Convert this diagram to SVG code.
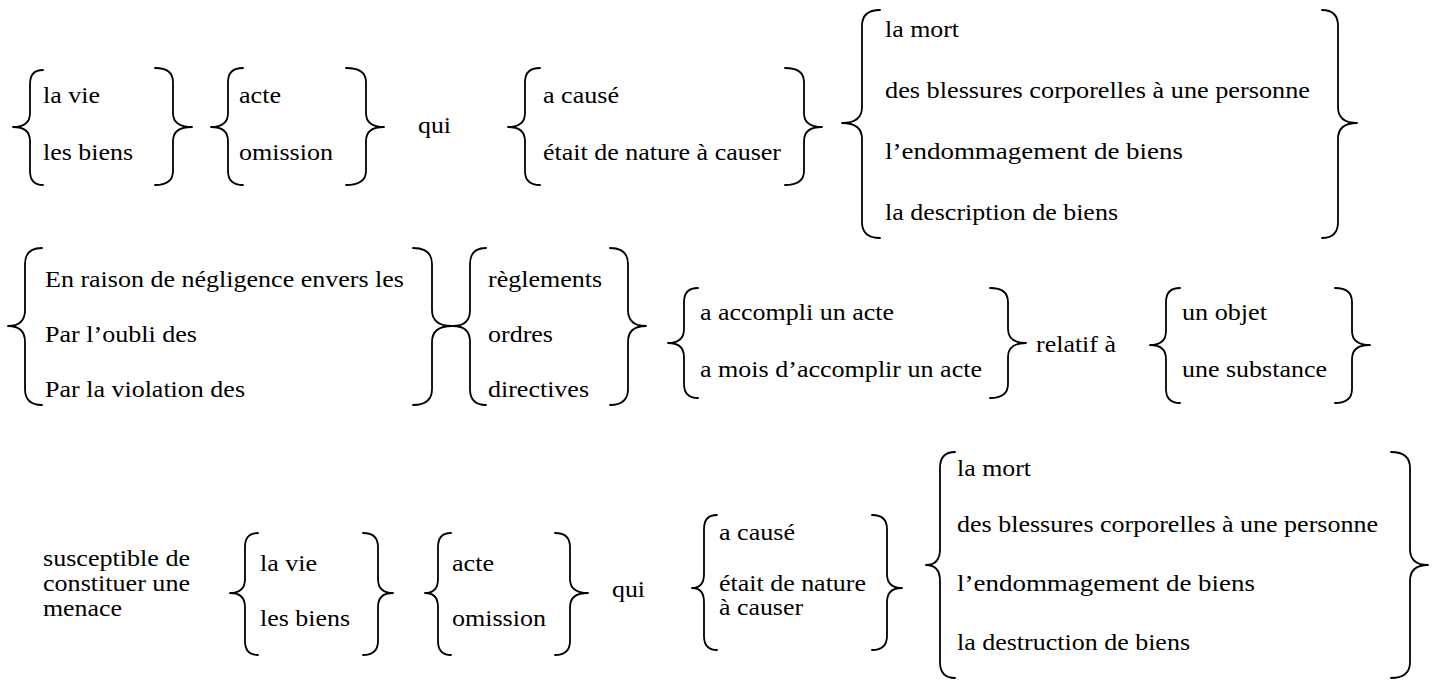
<svg xmlns="http://www.w3.org/2000/svg" width="1432" height="680" viewBox="0 0 1432 680">
<style>
.b{fill:none;stroke:#000;stroke-width:1.8;stroke-linejoin:round;stroke-linecap:round}
</style>
<rect width="1432" height="680" fill="#fff"/>
<g font-size="23" fill="#000" font-family="Liberation Serif, Times New Roman, serif">
<!-- Row 1 -->
<g id="r1-vie">
<path class="b" d="M43 70 Q30 70 30 84 V113 Q30 127 13 127 Q30 127 30 141 V171 Q30 185 43 185"/>
<text x="43" y="103" textLength="57" lengthAdjust="spacingAndGlyphs">la vie</text>
<text x="43" y="160" textLength="90" lengthAdjust="spacingAndGlyphs">les biens</text>
<path class="b" d="M155 68 Q173 68 173 82 V113 Q173 127 192 127 Q173 127 173 141 V171 Q173 185 155 185"/>
</g>
<g id="r1-acte">
<path class="b" d="M243 68 Q228 68 228 82 V113 Q228 127 211 127 Q228 127 228 141 V171 Q228 185 243 185"/>
<text x="239" y="103" textLength="42" lengthAdjust="spacingAndGlyphs">acte</text>
<text x="239" y="160" textLength="94" lengthAdjust="spacingAndGlyphs">omission</text>
<path class="b" d="M346 68 Q366 68 366 82 V113 Q366 127 384 127 Q366 127 366 141 V171 Q366 185 346 185"/>
</g>
<g id="r1-qui"><text x="418" y="133" textLength="33" lengthAdjust="spacingAndGlyphs">qui</text></g>
<g id="r1-cause">
<path class="b" d="M540 68 Q525 68 525 82 V113 Q525 127 508 127 Q525 127 525 141 V171 Q525 185 540 185"/>
<text x="543" y="103" textLength="76" lengthAdjust="spacingAndGlyphs">a causé</text>
<text x="543" y="160" textLength="238" lengthAdjust="spacingAndGlyphs">était de nature à causer</text>
<path class="b" d="M785 68 Q804 68 804 82 V113 Q804 127 822 127 Q804 127 804 141 V171 Q804 185 785 185"/>
</g>
<g id="r1-effets">
<path class="b" d="M880 10 Q862 10 862 26 V107 Q862 123 842 123 Q862 123 862 139 V222 Q862 238 880 238"/>
<text x="885" y="37" textLength="74" lengthAdjust="spacingAndGlyphs">la mort</text>
<text x="885" y="98" textLength="425" lengthAdjust="spacingAndGlyphs">des blessures corporelles à une personne</text>
<text x="885" y="159" textLength="298" lengthAdjust="spacingAndGlyphs">l’endommagement de biens</text>
<text x="885" y="220" textLength="233" lengthAdjust="spacingAndGlyphs">la description de biens</text>
<path class="b" d="M1322 10 Q1338 10 1338 26 V107 Q1338 123 1357 123 Q1338 123 1338 139 V222 Q1338 238 1322 238"/>
</g>
<!-- Row 2 -->
<g id="r2-cause">
<path class="b" d="M42 248 Q25 248 25 264 V310 Q25 326 8 326 Q25 326 25 342 V389 Q25 405 42 405"/>
<text x="45" y="287" textLength="359" lengthAdjust="spacingAndGlyphs">En raison de négligence envers les</text>
<text x="45" y="342" textLength="152" lengthAdjust="spacingAndGlyphs">Par l’oubli des</text>
<text x="45" y="397" textLength="200" lengthAdjust="spacingAndGlyphs">Par la violation des</text>
<path class="b" d="M413 248 Q432 248 432 264 V310 Q432 326 452 326 Q432 326 432 342 V389 Q432 405 413 405"/>
</g>
<g id="r2-regles">
<path class="b" d="M486 248 Q470 248 470 264 V310 Q470 326 453 326 Q470 326 470 342 V389 Q470 405 486 405"/>
<text x="488" y="287" textLength="114" lengthAdjust="spacingAndGlyphs">règlements</text>
<text x="488" y="342" textLength="65" lengthAdjust="spacingAndGlyphs">ordres</text>
<text x="488" y="397" textLength="101" lengthAdjust="spacingAndGlyphs">directives</text>
<path class="b" d="M610 248 Q628 248 628 264 V310 Q628 326 646 326 Q628 326 628 342 V389 Q628 405 610 405"/>
</g>
<g id="r2-acte">
<path class="b" d="M698 288 Q684 288 684 302 V329 Q684 343 668 343 Q684 343 684 357 V384 Q684 398 698 398"/>
<text x="700" y="320" textLength="194" lengthAdjust="spacingAndGlyphs">a accompli un acte</text>
<text x="700" y="377" textLength="282" lengthAdjust="spacingAndGlyphs">a mois d’accomplir un acte</text>
<path class="b" d="M990 288 Q1008 288 1008 302 V329 Q1008 343 1026 343 Q1008 343 1008 357 V384 Q1008 398 990 398"/>
</g>
<g id="r2-relatif"><text x="1036" y="352" textLength="80" lengthAdjust="spacingAndGlyphs">relatif à</text></g>
<g id="r2-objet">
<path class="b" d="M1180 288 Q1166 288 1166 302 V331 Q1166 345 1150 345 Q1166 345 1166 359 V389 Q1166 403 1180 403"/>
<text x="1182" y="320" textLength="85" lengthAdjust="spacingAndGlyphs">un objet</text>
<text x="1182" y="377" textLength="145" lengthAdjust="spacingAndGlyphs">une substance</text>
<path class="b" d="M1335 288 Q1352 288 1352 302 V331 Q1352 345 1370 345 Q1352 345 1352 359 V389 Q1352 403 1335 403"/>
</g>
<!-- Row 3 -->
<g id="r3-menace">
<text x="43" y="566" textLength="147" lengthAdjust="spacingAndGlyphs">susceptible de</text>
<text x="43" y="591" textLength="147" lengthAdjust="spacingAndGlyphs">constituer une</text>
<text x="43" y="616" textLength="79" lengthAdjust="spacingAndGlyphs">menace</text>
</g>
<g id="r3-vie">
<path class="b" d="M258 533 Q245 533 245 547 V579 Q245 593 230 593 Q245 593 245 607 V641 Q245 655 258 655"/>
<text x="260" y="571" textLength="57" lengthAdjust="spacingAndGlyphs">la vie</text>
<text x="260" y="626" textLength="90" lengthAdjust="spacingAndGlyphs">les biens</text>
<path class="b" d="M363 533 Q378 533 378 547 V579 Q378 593 393 593 Q378 593 378 607 V641 Q378 655 363 655"/>
</g>
<g id="r3-acte">
<path class="b" d="M451 533 Q438 533 438 547 V579 Q438 593 425 593 Q438 593 438 607 V641 Q438 655 451 655"/>
<text x="452" y="571" textLength="42" lengthAdjust="spacingAndGlyphs">acte</text>
<text x="452" y="626" textLength="94" lengthAdjust="spacingAndGlyphs">omission</text>
<path class="b" d="M555 533 Q570 533 570 547 V579 Q570 593 588 593 Q570 593 570 607 V641 Q570 655 555 655"/>
</g>
<g id="r3-qui"><text x="612" y="597" textLength="33" lengthAdjust="spacingAndGlyphs">qui</text></g>
<g id="r3-cause">
<path class="b" d="M717 515 Q704 515 704 529 V574 Q704 588 692 588 Q704 588 704 602 V636 Q704 650 717 650"/>
<text x="719" y="540" textLength="76" lengthAdjust="spacingAndGlyphs">a causé</text>
<text x="719" y="591" textLength="147" lengthAdjust="spacingAndGlyphs">était de nature</text>
<text x="719" y="615" textLength="84" lengthAdjust="spacingAndGlyphs">à causer</text>
<path class="b" d="M872 515 Q887 515 887 529 V574 Q887 588 902 588 Q887 588 887 602 V636 Q887 650 872 650"/>
</g>
<g id="r3-effets">
<path class="b" d="M955 452 Q940 452 940 468 V549 Q940 565 926 565 Q940 565 940 581 V662 Q940 678 955 678"/>
<text x="957" y="476" textLength="74" lengthAdjust="spacingAndGlyphs">la mort</text>
<text x="957" y="532" textLength="421" lengthAdjust="spacingAndGlyphs">des blessures corporelles à une personne</text>
<text x="957" y="591" textLength="298" lengthAdjust="spacingAndGlyphs">l’endommagement de biens</text>
<text x="957" y="650" textLength="233" lengthAdjust="spacingAndGlyphs">la destruction de biens</text>
<path class="b" d="M1391 452 Q1410 452 1410 468 V549 Q1410 565 1428 565 Q1410 565 1410 581 V662 Q1410 678 1391 678"/>
</g>
</g>
</svg>
